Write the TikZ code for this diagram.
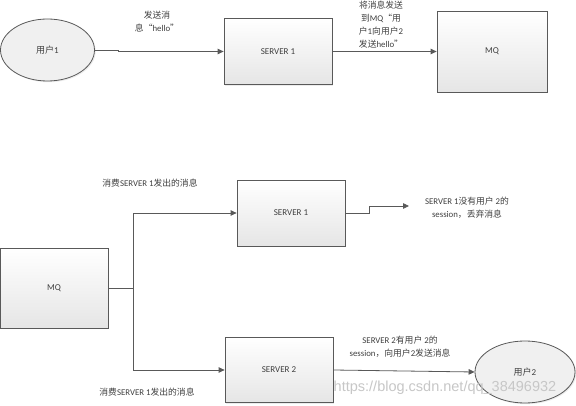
\documentclass[tikz,border=0pt]{standalone}
\usepackage{fontspec}
\setmainfont{Carlito}
\newfontfamily\zhfont{Noto Sans CJK SC}
\newfontfamily\wmfont{Liberation Sans}
\newcommand\zh[1]{{\zhfont #1}}
\usetikzlibrary{shapes.geometric,arrows.meta,shadows}
\definecolor{txt}{HTML}{404040}
\definecolor{edge}{HTML}{595959}
\tikzset{
  box/.style={draw=edge, line width=0.8pt, rectangle, top color=white, bottom color=black!10,
    drop shadow={shadow xshift=1.2pt, shadow yshift=-1.2pt, opacity=0.15},
    text=txt, font=\fontsize{9}{13}\selectfont},
  oval/.style={draw=edge, line width=0.8pt, ellipse, fill=black!6, text=txt,
    drop shadow={shadow xshift=1.2pt, shadow yshift=-1.2pt, opacity=0.15},
    font=\fontsize{9}{13}\selectfont},
  lbl/.style={align=center, text=txt, font=\fontsize{8.8}{13}\selectfont, inner sep=0pt},
  conn/.style={draw=edge, line width=0.8pt, -{Triangle[length=6pt,width=5.5pt]}},
  plain/.style={draw=edge, line width=0.8pt}
}
\begin{document}
\begin{tikzpicture}[x=1pt,y=-1pt]
\useasboundingbox[fill=white] (0,0) rectangle (576,406);
% top row
\node[oval, minimum width=94pt, minimum height=62pt] (u1) at (47.5,50) {\zh{用户}1};
\node[box, minimum width=108pt, minimum height=66pt] (s1) at (278,51.5) {SERVER 1};
\node[box, minimum width=110pt, minimum height=81pt] (mq1) at (492,51.5) {MQ};
\node[lbl] (l1) at (157,22) {\zh{发送消}\\\zh{息“}hello\zh{”}};
\node[lbl] (l2) at (381,25) {\zh{将消息发送}\\\zh{到}MQ\zh{“用}\\\zh{户}1\zh{向用户}2\\\zh{发送}hello\zh{”}};
\coordinate (j1) at (118,50);
\draw[conn] (u1.east) -- (j1) |- (s1.west);
\draw[conn] (s1.east) -- (mq1.west);
% bottom part
\node[box, minimum width=108pt, minimum height=80pt] (mq2) at (54,288) {MQ};
\node[box, minimum width=108pt, minimum height=66pt] (s1b) at (291,213) {SERVER 1};
\node[box, minimum width=108pt, minimum height=65pt] (s2) at (279,370) {SERVER 2};
\node[oval, minimum width=100pt, minimum height=62pt] (u2) at (525,372) {\zh{用户}2};
\node[lbl] (l3) at (150,183) {\zh{消费}SERVER 1\zh{发出的消息}};
\node[lbl] (l4) at (147,392) {\zh{消费}SERVER 1\zh{发出的消息}};
\node[lbl] (l5) at (467,208) {SERVER 1\zh{没有用户} 2\zh{的}\\session\zh{，丢弃消息}};
\node[lbl] (l6) at (400,347) {SERVER 2\zh{有用户} 2\zh{的}\\session\zh{，向用户}2\zh{发送消息}};
\coordinate (jm) at (133,288);
\coordinate (js) at (369,213);
\coordinate (drop) at (409,206);
\draw[plain] (mq2.east) -- (jm);
\draw[conn] (jm) |- (s1b.west);
\draw[conn] (jm) |- (s2.west);
\draw[conn] (s1b.east) -- (js) |- (drop);
\draw[conn] (s2.east) -- (u2.west);
% watermark
\node[inner sep=0pt, text=black!22, font=\wmfont\fontsize{14.5}{16}\selectfont] (wm) at (445,388) {https://blog.csdn.net/qq\_38496932};
\end{tikzpicture}
\end{document}
